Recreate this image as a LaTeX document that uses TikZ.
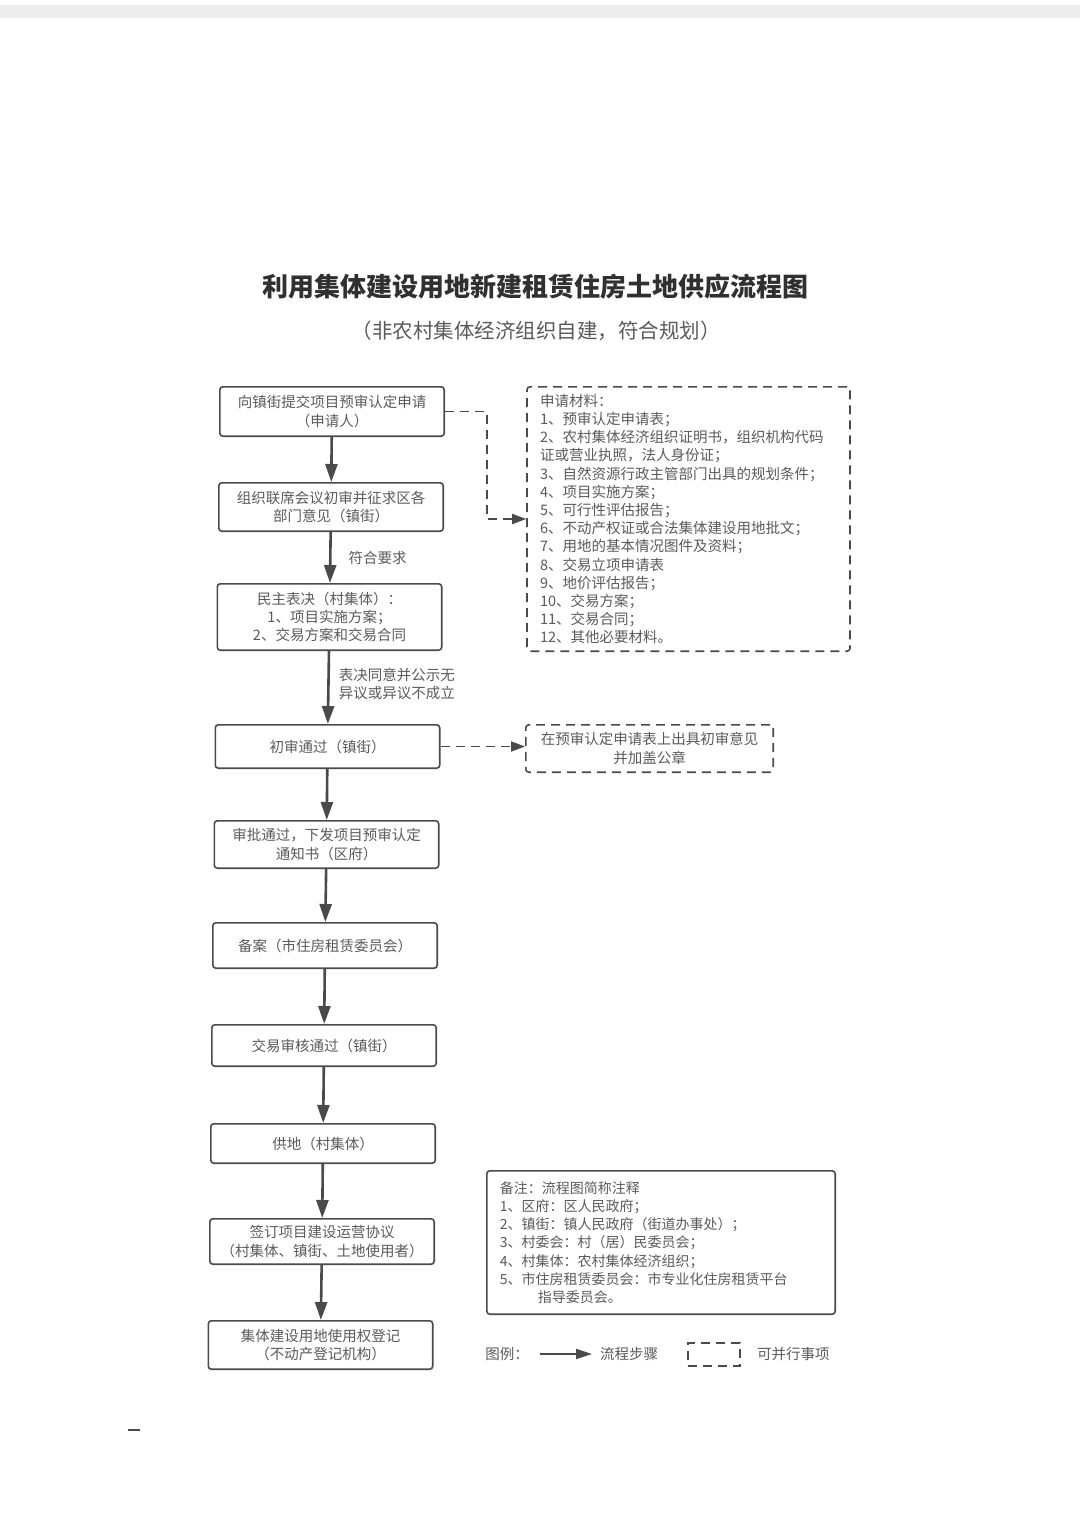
\documentclass[tikz,border=0pt]{standalone}
\usepackage{fontspec}
\setmainfont{Noto Sans CJK SC}
\usetikzlibrary{arrows.meta,positioning}

\definecolor{boxline}{HTML}{4A4A4A}
\definecolor{inktext}{HTML}{5A5A5A}
\definecolor{titleink}{HTML}{303030}

\tikzset{
  stage/.style={draw=boxline, line width=1.6pt, rounded corners=3pt, minimum width=224.4pt,
    minimum height=46.4pt, align=center, text=inktext, inner sep=2pt,
    font=\fontsize{14.5}{18.2}\selectfont},
  para/.style={draw=boxline, line width=1.6pt, dash pattern=on 9pt off 6pt, rounded corners=3pt,
    text=inktext, font=\fontsize{14.5}{18.2}\selectfont},
  note/.style={text=inktext, align=left, inner sep=1pt, font=\fontsize{14.5}{18.2}\selectfont},
  flow/.style={draw=boxline, line width=2.6pt, -{Triangle[length=18pt,width=12pt]}},
  side/.style={draw=boxline, line width=1.8pt, dash pattern=on 9pt off 6pt, -{Triangle[length=14pt,width=10pt]}}
}

\begin{document}
\begin{tikzpicture}[x=1pt,y=-1pt]
\useasboundingbox (0,0) rectangle (1080,1528);
\fill[black!7] (0,5) rectangle (1080,18);

% title
\node[text=titleink, font=\fontsize{26}{30}\selectfont\bfseries] (title) at (535,287) {利用集体建设用地新建租赁住房土地供应流程图};
\node[text=inktext, font=\fontsize{20.5}{24}\selectfont] (subtitle) at (536,331) {（非农村集体经济组织自建，符合规划）};

% main flow
\node[stage, minimum height=49.4pt] (apply) at (332,411.5) {向镇街提交项目预审认定申请\\（申请人）};
\node[stage, minimum height=48.4pt, below=45pt of apply, xshift=-1pt] (meet) {组织联席会议初审并征求区各\\部门意见（镇街）};
\node[stage, minimum height=66.4pt, below=51pt of meet, xshift=-1.5pt] (vote) {民主表决（村集体）：\\1、项目实施方案；\\2、交易方案和交易合同};
\node[stage, minimum height=43.4pt, below=73pt of vote, xshift=-2pt] (prelim) {初审通过（镇街）};
\node[stage, minimum height=47.4pt, below=51pt of prelim, xshift=-1pt] (approve) {审批通过，下发项目预审认定\\通知书（区府）};
\node[stage, minimum height=45.4pt, below=53pt of approve, xshift=-1.5pt] (record) {备案（市住房租赁委员会）};
\node[stage, minimum height=41.4pt, below=55pt of record, xshift=-1pt] (trade) {交易审核通过（镇街）};
\node[stage, minimum height=39.4pt, below=56pt of trade, xshift=-1pt] (supply) {供地（村集体）};
\node[stage, minimum height=45.4pt, below=54pt of supply, xshift=-1pt] (sign) {签订项目建设运营协议\\（村集体、镇街、土地使用者）};
\node[stage, minimum height=48.4pt, below=55pt of sign, xshift=-1.5pt] (register) {集体建设用地使用权登记\\（不动产登记机构）};

\draw[flow] (apply) -- (meet);
\draw[flow] (meet) -- node[note, right=16pt] {符合要求} (vote);
\draw[flow] (vote) -- node[note, pos=0.45, right=8pt] {表决同意并公示无\\异议或异议不成立} (prelim);
\draw[flow] (prelim) -- (approve);
\draw[flow] (approve) -- (record);
\draw[flow] (record) -- (trade);
\draw[flow] (trade) -- (supply);
\draw[flow] (supply) -- (sign);
\draw[flow] (sign) -- (register);

% parallel items
\node[para, align=left, text width=297pt, inner xsep=13pt, inner ysep=4pt, minimum height=264.4pt] (docs) at (688.5,519) {申请材料：\\
1、预审认定申请表；\\
2、农村集体经济组织证明书，组织机构代码\\
证或营业执照，法人身份证；\\
3、自然资源行政主管部门出具的规划条件；\\
4、项目实施方案；\\
5、可行性评估报告；\\
6、不动产权证或合法集体建设用地批文；\\
7、用地的基本情况图件及资料；\\
8、交易立项申请表\\
9、地价评估报告；\\
10、交易方案；\\
11、交易合同；\\
12、其他必要材料。};
\node[para, align=center, minimum width=247.4pt, minimum height=47.4pt, inner sep=2pt] (seal) at (649.5,748.5) {在预审认定申请表上出具初审意见\\并加盖公章};

\draw[side] (apply.east) -- ++(42,0) |- (docs.west);
\draw[side] (prelim.east) -- (prelim.east -| seal.west);

% remarks
\node[draw=boxline, line width=1.6pt, rounded corners=3pt, text=inktext, align=left, text width=322.4pt,
  inner xsep=13pt, minimum height=143.4pt, font=\fontsize{14}{18.2}\selectfont] (remark) at (661,1242.5) {备注：流程图简称注释\\
1、区府：区人民政府；\\
2、镇街：镇人民政府（街道办事处）；\\
3、村委会：村（居）民委员会；\\
4、村集体：农村集体经济组织；\\
5、市住房租赁委员会：市专业化住房租赁平台\\
\hspace*{38pt}指导委员会。};

% legend
\node[note] (legend) at (507,1354) {图例：};
\coordinate (legA) at (540,1354);
\coordinate (legB) at (592,1354);
\draw[flow, line width=2pt, -{Triangle[length=16pt,width=10pt]}] (legA) -- (legB);
\node[note, right=7pt of legB] (legstep) {流程步骤};
\node[para, minimum width=52pt, minimum height=23pt, inner sep=0pt, rounded corners=0pt] (legbox) at (714,1354.5) {};
\node[note, right=15pt of legbox] (legpar) {可并行事项};

\draw[boxline, line width=1.5pt] (128,1430) -- (140,1430);
\end{tikzpicture}
\end{document}
